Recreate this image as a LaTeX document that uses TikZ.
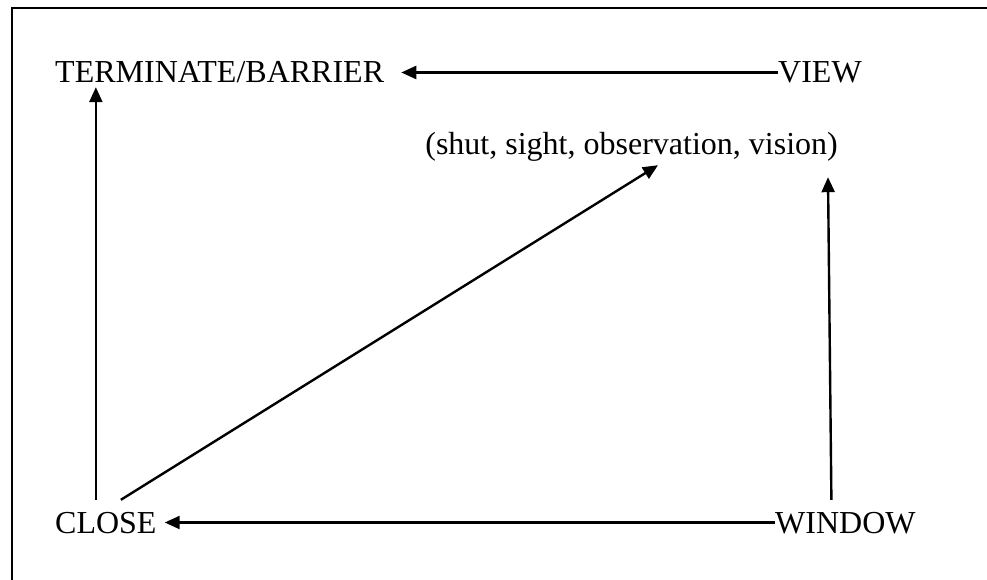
\documentclass[tikz,border=0pt]{standalone}
\usepackage{fontspec}
\setmainfont{Liberation Serif}
\usetikzlibrary{arrows.meta}
\tikzset{
  lbl/.style={inner sep=0pt, text height=21pt, text depth=0pt, font=\fontsize{32}{38}\selectfont},
  arr/.style={line width=2.4pt, -{Triangle[length=15pt,width=13pt]}},
  frame/.style={line width=2pt}
}
\begin{document}
\begin{tikzpicture}[x=1pt,y=-1pt]
\useasboundingbox (0,0) rectangle (987,580);
\fill[white] (0,0) rectangle (987,580);
\begin{scope}
\clip (0,0) rectangle (987,580);
\draw[frame] (12,8) rectangle (1010,600);
\end{scope}
\node[lbl, anchor=base west] (term) at (55,83) {TERMINATE/BARRIER};
\node[lbl, anchor=base west] (view) at (778,83) {VIEW};
\node[lbl, anchor=base east] (paren) at (838,155) {(shut, sight, observation, vision)};
\node[lbl, anchor=base west] (close) at (55,533) {CLOSE};
\node[lbl, anchor=base west] (window) at (775,533) {WINDOW};
\draw[arr, shorten >=17pt] (view.west) -- (term.east);
\draw[arr, shorten >=8pt] (window.west) -- (close.east);
\draw[arr, shorten <=12pt, shorten >=4pt] ([xshift=-10pt]close.north) -- ([xshift=-10pt]close.north |- term.south);
\draw[arr] ([xshift=15pt,yshift=12pt]close.north) -- ([xshift=-180pt,yshift=-10pt]paren.south east);
\draw[arr] ([xshift=-14pt,yshift=12pt]window.north) -- ([xshift=-10pt,yshift=-22pt]paren.south east);
\end{tikzpicture}
\end{document}
